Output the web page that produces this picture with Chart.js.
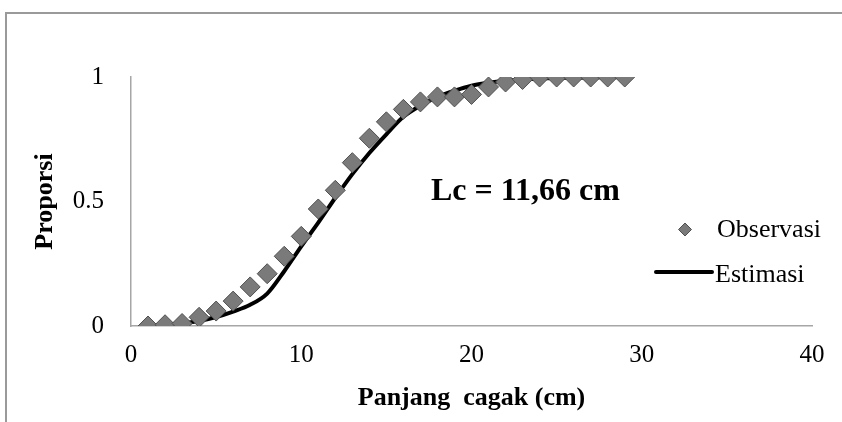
<!DOCTYPE html>
<html>
<head>
<meta charset="utf-8">
<script src="https://cdn.jsdelivr.net/npm/chart.js@4/dist/chart.umd.min.js"></script>
<style>
  html, body { margin: 0; padding: 0; background: #fff; }
  #wrap { position: relative; width: 842px; height: 422px; }
</style>
</head>
<body>
<div id="wrap"><canvas id="chart" width="842" height="422"></canvas></div>
<script>
  "use strict";

  // Panjang cagak (cm)
  var lengths = [1, 2, 3, 4, 5, 6, 7, 8, 9, 10, 11, 12, 13, 14, 15, 16, 17, 18, 19, 20, 21, 22, 23, 24, 25, 26, 27, 28, 29];
  var observasi = [0, 0.005, 0.01, 0.035, 0.06, 0.10, 0.157, 0.21, 0.28, 0.36, 0.47, 0.545, 0.656, 0.754, 0.82, 0.87, 0.90, 0.92, 0.92, 0.93, 0.96, 0.98, 0.99, 1, 1, 1, 1, 1, 1];
  var estimasi = [0.002, 0.005, 0.01, 0.02, 0.036, 0.058, 0.085, 0.13, 0.22, 0.32, 0.415, 0.515, 0.61, 0.695, 0.77, 0.84, 0.885, 0.92, 0.945, 0.965, 0.977, 0.985, 0.99, 0.994, 0.996, 0.997, 0.998, 0.999, 1.0];
  var xTicks = [0, 10, 20, 30, 40];
  var yTicks = [0, 0.5, 1];
  var seriesNames = ['Observasi', 'Estimasi'];
  var lcLabel = 'Lc = 11,66 cm';

  var serif = '"Liberation Serif", "Times New Roman", serif';
  var axisGray = '#a6a6a6';

  function toPoints(xs, ys) {
    return xs.map(function (x, i) { return { x: x, y: ys[i] }; });
  }

  // Frame, annotation and legend drawn on the canvas.
  var extras = {
    id: 'extras',
    beforeDraw: function (chart) {
      var ctx = chart.ctx;
      ctx.save();
      ctx.strokeStyle = '#9a9a9a';
      ctx.lineWidth = 2;
      ctx.beginPath();
      ctx.moveTo(6, 430);
      ctx.lineTo(6, 13);
      ctx.lineTo(850, 13);
      ctx.stroke();
      ctx.restore();
    },
    afterDraw: function (chart) {
      var ctx = chart.ctx;
      var obs = chart.data.datasets[0];
      var est = chart.data.datasets[1];
      ctx.save();
      ctx.fillStyle = '#000';
      ctx.textBaseline = 'alphabetic';
      ctx.textAlign = 'left';
      ctx.font = 'bold 32px ' + serif;
      ctx.fillText(lcLabel, 431, 200);

      // legend: Observasi
      ctx.fillStyle = obs.backgroundColor;
      ctx.strokeStyle = obs.borderColor;
      ctx.lineWidth = 1;
      ctx.beginPath();
      ctx.moveTo(685, 223);
      ctx.lineTo(691.5, 229.5);
      ctx.lineTo(685, 236);
      ctx.lineTo(678.5, 229.5);
      ctx.closePath();
      ctx.fill();
      ctx.stroke();
      ctx.fillStyle = '#000';
      ctx.font = '26px ' + serif;
      ctx.fillText(seriesNames[0], 717, 237);

      // legend: Estimasi
      ctx.strokeStyle = est.borderColor;
      ctx.lineWidth = est.borderWidth;
      ctx.lineCap = 'round';
      ctx.beginPath();
      ctx.moveTo(656, 272);
      ctx.lineTo(712, 272);
      ctx.stroke();
      ctx.fillText(seriesNames[1], 715, 282);
      ctx.restore();
    }
  };

  new Chart(document.getElementById('chart').getContext('2d'), {
    type: 'scatter',
    data: {
      datasets: [{
        label: seriesNames[0],
        data: toPoints(lengths, observasi),
        showLine: false,
        pointStyle: 'rectRot',
        pointRadius: 10,
        backgroundColor: '#7a7a7a',
        borderColor: '#505050',
        borderWidth: 1
      }, {
        label: seriesNames[1],
        data: toPoints(lengths, estimasi),
        showLine: true,
        pointRadius: 0,
        borderColor: '#000',
        backgroundColor: '#000',
        borderWidth: 4,
        cubicInterpolationMode: 'monotone',
        fill: false
      }]
    },
    options: {
      responsive: false,
      animation: false,
      events: [],
      layout: { padding: { top: 77, right: 30, bottom: 0, left: 0 } },
      plugins: {
        legend: { display: false },
        tooltip: { enabled: false }
      },
      scales: {
        x: {
          type: 'linear',
          min: 0,
          max: 40,
          afterBuildTicks: function (scale) {
            scale.ticks = xTicks.map(function (v) { return { value: v }; });
          },
          afterFit: function (scale) { scale.height = 96; },
          grid: { display: false, drawTicks: false },
          border: { display: true, color: axisGray, width: 1.5 },
          ticks: {
            color: '#000',
            padding: 14,
            font: { family: serif, size: 25 },
            callback: function (v) { return String(v); }
          },
          title: {
            display: true,
            text: 'Panjang  cagak (cm)',
            color: '#000',
            padding: { top: 0, bottom: 8 },
            font: { family: serif, size: 26, weight: 'bold' }
          }
        },
        y: {
          type: 'linear',
          min: 0,
          max: 1,
          afterBuildTicks: function (scale) {
            scale.ticks = yTicks.map(function (v) { return { value: v }; });
          },
          afterFit: function (scale) { scale.width = 131; },
          grid: { display: false, drawTicks: false },
          border: { display: true, color: axisGray, width: 1.5 },
          ticks: {
            color: '#000',
            padding: 27,
            font: { family: serif, size: 25 },
            callback: function (v) { return String(v); }
          },
          title: {
            display: true,
            text: 'Proporsi',
            color: '#000',
            padding: { top: 30, bottom: 0 },
            font: { family: serif, size: 26, weight: 'bold' }
          }
        }
      }
    },
    plugins: [extras]
  });
</script>
</body>
</html>
